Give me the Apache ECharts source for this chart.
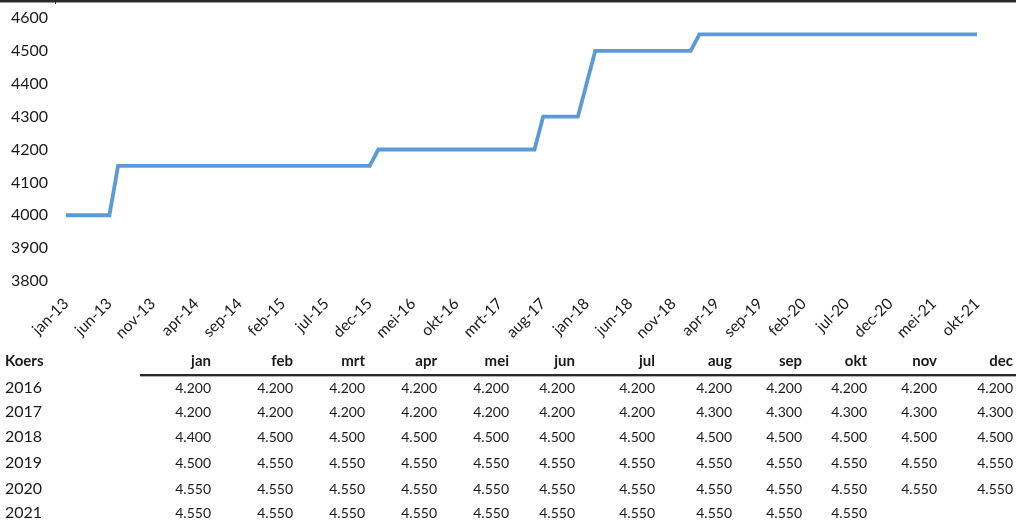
<!DOCTYPE html>
<html>
<head>
<meta charset="utf-8">
<script src="https://cdn.jsdelivr.net/npm/echarts@6/dist/echarts.min.js"></script>
<style>
html,body{margin:0;padding:0;background:#fff;}
#chart{width:1016px;height:524px;}
</style>
</head>
<body>
<div id="chart"></div>
<script>
// ---- data ----
var monthNames = ['jan','feb','mrt','apr','mei','jun','jul','aug','sep','okt','nov','dec'];
var years = [2013, 2014, 2015, 2016, 2017, 2018, 2019, 2020, 2021];
var koers2013 = [4000, 4000, 4000, 4000, 4000, 4000, 4150, 4150, 4150, 4150, 4150, 4150];
var koers2014 = [4150, 4150, 4150, 4150, 4150, 4150, 4150, 4150, 4150, 4150, 4150, 4150];
var koers2015 = [4150, 4150, 4150, 4150, 4150, 4150, 4150, 4150, 4150, 4150, 4150, 4150];
var koers2016 = [4200, 4200, 4200, 4200, 4200, 4200, 4200, 4200, 4200, 4200, 4200, 4200];
var koers2017 = [4200, 4200, 4200, 4200, 4200, 4200, 4200, 4300, 4300, 4300, 4300, 4300];
var koers2018 = [4400, 4500, 4500, 4500, 4500, 4500, 4500, 4500, 4500, 4500, 4500, 4500];
var koers2019 = [4500, 4550, 4550, 4550, 4550, 4550, 4550, 4550, 4550, 4550, 4550, 4550];
var koers2020 = [4550, 4550, 4550, 4550, 4550, 4550, 4550, 4550, 4550, 4550, 4550, 4550];
var koers2021 = [4550, 4550, 4550, 4550, 4550, 4550, 4550, 4550, 4550, 4550];
var yTicks = {min: 3800, max: 4600, step: 100};
var tableTitle = 'Koers';
var tableYears = [2016, 2017, 2018, 2019, 2020, 2021];

// ---- build ----
var byYear = {2013: koers2013, 2014: koers2014, 2015: koers2015, 2016: koers2016, 2017: koers2017,
              2018: koers2018, 2019: koers2019, 2020: koers2020, 2021: koers2021};
var categories = [], values = [];
years.forEach(function (y) {
  byYear[y].forEach(function (v, i) {
    categories.push(monthNames[i] + '-' + String(y).slice(2));
    values.push(v);
  });
});

function fmt(v) {
  var s = String(v);
  return s.slice(0, s.length - 3) + '.' + s.slice(s.length - 3);
}

// layout (positions only)
var FONT = 'Lato, "Open Sans", sans-serif';
var TXT = '#1a1a1a';
var colRight = [211, 293, 365, 437, 509, 575, 655, 732, 802, 867, 937, 1013];
var headerY = 361;
var rowY = [388, 412, 437, 463, 489, 513];

var graphics = [];
// top border from previous block
graphics.push({type: 'rect', shape: {x: 0, y: 0, width: 1016, height: 2}, style: {fill: '#2a2a2a'}, silent: true});
graphics.push({type: 'rect', shape: {x: 0, y: 2, width: 1016, height: 1}, style: {fill: '#9a9a9a'}, silent: true});
graphics.push({type: 'rect', shape: {x: 55, y: 0, width: 1, height: 4}, style: {fill: '#2a2a2a'}, silent: true});
// header
graphics.push({type: 'text', x: 5, y: headerY, style: {text: tableTitle, font: 'bold 15px ' + FONT, fill: TXT, textAlign: 'left', textVerticalAlign: 'middle'}});
monthNames.forEach(function (m, i) {
  graphics.push({type: 'text', x: colRight[i], y: headerY, style: {text: m, font: 'bold 15px ' + FONT, fill: TXT, textAlign: 'right', textVerticalAlign: 'middle'}});
});
graphics.push({type: 'rect', shape: {x: 140, y: 374, width: 876, height: 2}, style: {fill: '#2a2a2a'}, silent: true});
graphics.push({type: 'rect', shape: {x: 140, y: 376, width: 876, height: 1}, style: {fill: '#b0b0b0'}, silent: true});
// rows
tableYears.forEach(function (y, r) {
  graphics.push({type: 'text', x: 5, y: rowY[r], style: {text: String(y), font: '16px ' + FONT, fill: TXT, textAlign: 'left', textVerticalAlign: 'middle'}});
  byYear[y].forEach(function (v, i) {
    graphics.push({type: 'text', x: colRight[i], y: rowY[r], style: {text: fmt(v), font: '14px ' + FONT, fill: TXT, textAlign: 'right', textVerticalAlign: 'middle'}});
  });
});

var chart = echarts.init(document.getElementById('chart'), null, {renderer: 'canvas'});
chart.setOption({
  animation: false,
  backgroundColor: '#ffffff',
  grid: {left: 66, right: 39, top: 18, bottom: 243, containLabel: false},
  xAxis: {
    type: 'category',
    data: categories,
    boundaryGap: false,
    axisLine: {show: false},
    axisTick: {show: false},
    splitLine: {show: false},
    axisLabel: {interval: 4, rotate: 45, margin: 20, fontFamily: FONT, fontSize: 15.5, color: TXT}
  },
  yAxis: {
    type: 'value',
    min: yTicks.min, max: yTicks.max, interval: yTicks.step,
    axisLine: {show: false},
    axisTick: {show: false},
    splitLine: {show: false},
    axisLabel: {fontFamily: FONT, fontSize: 16, color: TXT, margin: 18, formatter: function (v) { return String(v); }}
  },
  series: [{
    type: 'line',
    data: values,
    showSymbol: false,
    symbol: 'none',
    lineStyle: {color: '#5B9BD5', width: 3.8, join: 'miter', cap: 'butt'},
    itemStyle: {color: '#5B9BD5'}
  }],
  graphic: graphics
});
</script>
</body>
</html>
